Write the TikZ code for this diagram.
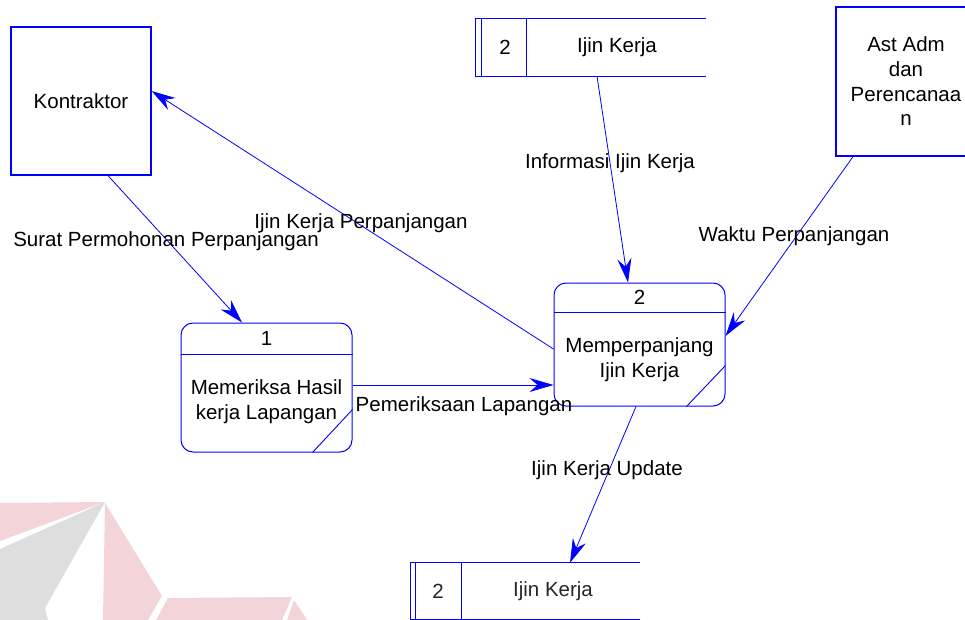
\documentclass[tikz,border=0pt]{standalone}
\usepackage{fontspec}
\setmainfont{Liberation Sans}
\usetikzlibrary{arrows.meta,calc}
\definecolor{dfdblue}{RGB}{0,0,255}
\definecolor{wmpink}{RGB}{242,212,217}
\definecolor{wmgray}{RGB}{222,222,222}
\begin{document}
\begin{tikzpicture}[x=1pt,y=-1pt,
  every node/.style={font=\fontsize{20.5}{24.7}\selectfont, inner sep=0pt},
  entity/.style={draw=dfdblue, line width=1.2pt, align=center},
  proc/.style={draw=dfdblue, line width=1pt, rounded corners=12pt, minimum width=171pt},
  procline/.style={draw=dfdblue, line width=0.9pt},
  storeline/.style={draw=dfdblue, line width=0.9pt},
  flow/.style={draw=dfdblue, line width=0.8pt, -{Stealth[length=24pt,width=14pt,inset=8pt]}},
  lbl/.style={text=black},
  wmp/.style={fill=wmpink, draw=none},
  wmg/.style={fill=wmgray, draw=none}]
\clip (0,0) rectangle (965,620);
\fill[white] (0,0) rectangle (965,620);
% watermark
\path[wmp] (0,503) -- (105,502) -- (0,541) -- cycle;
\path[wmg] (0,549) -- (105,502) -- (45,608) -- (48,620) -- (0,620) -- cycle;
\path[wmp] (105,503) -- (162,596) -- (148,620) -- (103,620) -- cycle;
\path[wmp] (168,598) -- (292,597) -- (282,620) -- (156,620) -- cycle;
\path[wmp] (294,600) -- (307,620) -- (287,620) -- cycle;
% external entities
\node[entity, minimum width=140pt, minimum height=148pt] (kon) at (81,101) {Kontraktor};
\node[entity, minimum width=140pt, minimum height=149pt] (ast) at (906,81.5) {Ast Adm\\dan\\Perencanaa\\n};
% process 1
\node[proc, minimum height=129pt] (p1) at (266.5,387.5) {};
\draw[procline] (p1.west |- 0,354) -- (p1.east |- 0,354);
\draw[procline] ($(p1.south east)+(-40,0)$) -- ($(p1.south east)+(0,-43)$);
\node (p1num) at (266.5,338) {1};
\node[align=center] (p1txt) at (266.5,402) {Memeriksa Hasil\\kerja Lapangan};
% process 2
\node[proc, minimum height=123pt] (p2) at (639.5,344.5) {};
\draw[procline] (p2.west |- 0,312) -- (p2.east |- 0,312);
\draw[procline] ($(p2.south east)+(-39,0)$) -- ($(p2.south east)+(0,-41)$);
\node (p2num) at (639.5,297) {2};
\node[align=center] (p2txt) at (639.5,359.5) {Memperpanjang\\Ijin Kerja};
% data store top
\node[minimum width=230pt, minimum height=57pt] (store1) at (591,47.5) {};
\draw[storeline] (store1.north east) -- (store1.north west) -- (store1.south west) -- (store1.south east);
\draw[storeline] ($(store1.north west)+(6,0)$) -- ($(store1.south west)+(6,0)$);
\draw[storeline] ($(store1.north west)+(51,0)$) -- ($(store1.south west)+(51,0)$);
\node (s1num) at (505,47.5) {2};
\node (s1txt) at (617,47.5) {Ijin Kerja};
% data store bottom
\node[minimum width=229pt, minimum height=56pt] (store2) at (525.5,591) {};
\draw[storeline] (store2.north east) -- (store2.north west) -- (store2.south west) -- (store2.south east);
\draw[storeline] ($(store2.north west)+(5,0)$) -- ($(store2.south west)+(5,0)$);
\draw[storeline] ($(store2.north west)+(51,0)$) -- ($(store2.south west)+(51,0)$);
\node[text=black!85] (s2num) at (438,591) {2};
\node[text=black!85] (s2txt) at (553,591) {Ijin Kerja};
% flows
\draw[flow] ($(kon.south)+(27,0)$) -- ($(p1.north)+(-24.5,0)$);
\draw[flow] ($(p2.west)+(0,4.5)$) -- ($(kon.east)+(0,-10)$);
\draw[flow] ($(p1.east)+(0,-2.5)$) -- ($(p2.west)+(0,40.5)$);
\draw[flow] ($(store1.south)+(6,0)$) -- ($(p2.north)+(-11.5,0)$);
\draw[flow] ($(ast.south)+(-53,0)$) -- ($(p2.east)+(0,-8.5)$);
\draw[flow] ($(p2.south)+(-3.5,0)$) -- ($(store2.north)+(44.5,0)$);
% labels
\node[lbl] (l1) at (166,241) {Surat Permohonan Perpanjangan};
\node[lbl] (l2) at (361,223) {Ijin Kerja Perpanjangan};
\node[lbl] (l3) at (464,406) {Pemeriksaan Lapangan};
\node[lbl] (l4) at (610,163) {Informasi Ijin Kerja};
\node[lbl] (l5) at (794,236) {Waktu Perpanjangan};
\node[lbl] (l6) at (607,470) {Ijin Kerja Update};
\end{tikzpicture}
\end{document}
